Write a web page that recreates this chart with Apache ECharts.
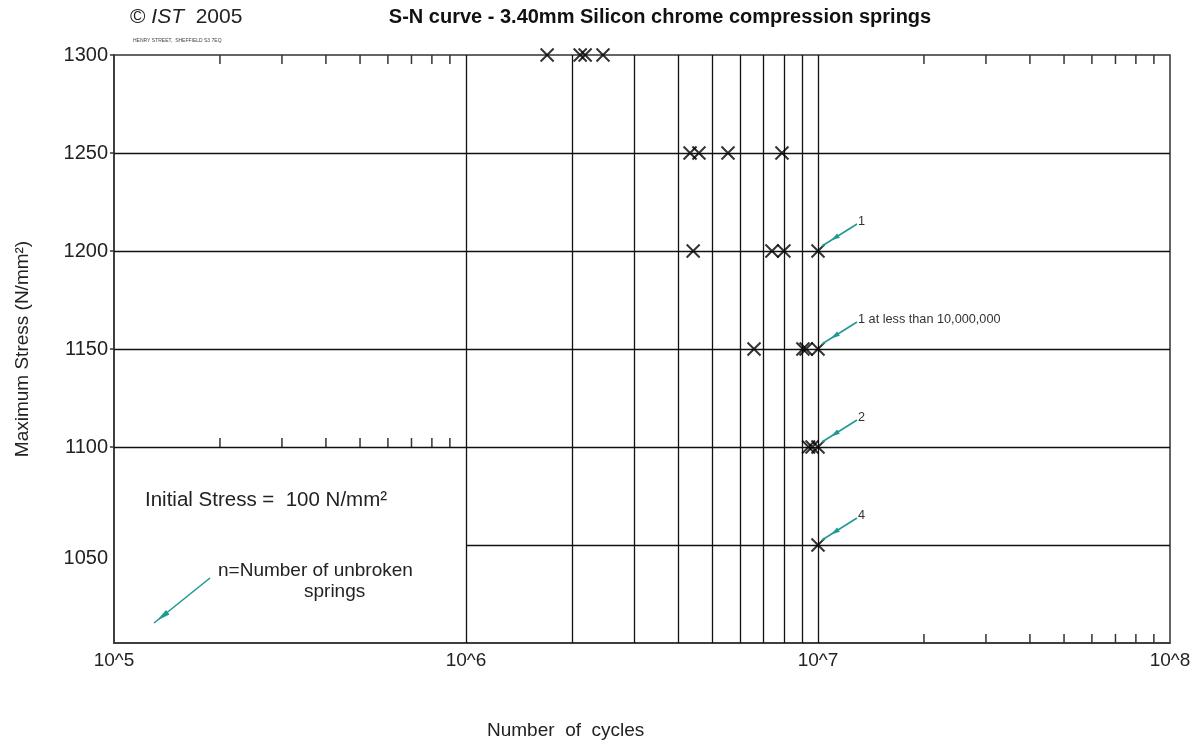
<!DOCTYPE html>
<html>
<head>
<meta charset="utf-8">
<title>S-N curve - 3.40mm Silicon chrome compression springs</title>
<script src="https://cdn.jsdelivr.net/npm/echarts@6/dist/echarts.min.js"></script>
<style>
  html, body { margin: 0; padding: 0; background: #fff; }
  #chart { width: 1197px; height: 744px; }
</style>
</head>
<body>
<div id="chart"></div>
<script>
// Test results: cycles to failure at each maximum stress level (N/mm²)
const cycles1300 = [1.70e6, 2.11e6, 2.18e6, 2.45e6];
const cycles1250 = [4.33e6, 4.59e6, 5.55e6, 7.90e6];
const cycles1200 = [4.42e6, 7.40e6, 8.00e6, 1.00e7];
const cycles1150 = [6.58e6, 9.06e6, 9.25e6, 1.00e7];
const cycles1100 = [9.40e6, 9.62e6, 1.00e7];
const cycles1050 = [1.00e7];

// Run-outs at 10^7 cycles, with the count of unbroken springs
const runoutCycles = 1.0e7;
const runoutStress = [1200, 1150, 1100, 1050];
const runoutLabels = ['1', '1 at less than 10,000,000', '2', '4'];

// Axis ranges and tick labels
const stressTicks = [1300, 1250, 1200, 1150, 1100];
const decadeLabels = { 5: '10^5', 6: '10^6', 7: '10^7', 8: '10^8' };
const minorMultipliers = [2, 3, 4, 5, 6, 7, 8, 9];

// Full-height cycle grid lines (10^6 to 10^7) and full-width stress lines
const gridCycles = [1e6, 2e6, 3e6, 4e6, 5e6, 6e6, 7e6, 8e6, 9e6, 1e7];
const gridStress = [1250, 1200, 1150, 1100];

const ink = '#111';
const teal = '#1f9a93';
const font = '"Liberation Sans", Arial, sans-serif';

const scatterData = []
  .concat(cycles1300.map(c => [c, 1300]))
  .concat(cycles1250.map(c => [c, 1250]))
  .concat(cycles1200.map(c => [c, 1200]))
  .concat(cycles1150.map(c => [c, 1150]))
  .concat(cycles1100.map(c => [c, 1100]))
  .concat(cycles1050.map(c => [c, 1050]));

// Short scale ticks: [cycles, stress, dx, dy] giving the tick's direction
const tickData = [];
minorMultipliers.forEach(m => {
  tickData.push([m * 1e5, 1300, 0, 1]);
  tickData.push([m * 1e7, 1300, 0, 1]);
  tickData.push([m * 1e5, 1100, 0, -1]);
  tickData.push([m * 1e7, 1000, 0, -1]);
});
stressTicks.forEach(s => tickData.push([1e5, s, -0.45, 0]));

const markLineData = gridCycles.map(c => ({ xAxis: c }))
  .concat(gridStress.map(s => ({ yAxis: s })))
  .concat([[{ coord: [1e6, 1050] }, { coord: [1e8, 1050] }]]);

const chart = echarts.init(document.getElementById('chart'), null, { renderer: 'canvas' });

const option = {
  backgroundColor: '#fff',
  animation: false,
  textStyle: { fontFamily: font },
  title: {
    text: 'S-N curve - 3.40mm Silicon chrome compression springs',
    left: 655, top: 2, textAlign: 'center',
    textStyle: { fontSize: 20, fontWeight: 'bold', color: '#111', fontFamily: font }
  },
  grid: {
    left: 114, right: 27, top: 55, bottom: 101,
    show: true, borderColor: '#333', borderWidth: 1.5, backgroundColor: 'transparent'
  },
  xAxis: {
    type: 'log', logBase: 10, min: 1e5, max: 1e8,
    axisLine: { show: true, lineStyle: { color: '#333', width: 1.5 } },
    axisTick: { show: false },
    splitLine: { show: false },
    axisLabel: {
      margin: 8, fontSize: 19, color: '#222',
      fontFamily: '"Liberation Sans Narrow", "Liberation Sans", Arial, sans-serif',
      formatter: v => decadeLabels[Math.round(Math.log10(v))] || ''
    }
  },
  yAxis: {
    type: 'value', min: 1000, max: 1300, interval: 50,
    name: 'Maximum Stress (N/mm²)', nameLocation: 'middle', nameGap: 82,
    nameTextStyle: { fontSize: 19, color: '#222', fontFamily: font },
    axisLine: { show: true, lineStyle: { color: '#333', width: 1.5 } },
    axisTick: { show: false },
    splitLine: { show: false },
    axisLabel: {
      margin: 6, fontSize: 20, color: '#222',
      formatter: v => (v === 1050 ? '{low|1050}' : (v === 1000 ? '' : String(v))),
      rich: { low: { fontSize: 20, color: '#222', padding: [26, 0, 0, 0] } }
    }
  },
  graphic: [
    {
      type: 'text', left: 130, top: 7,
      style: {
        text: '{n|© }{i|IST}{n|  2005}',
        rich: {
          n: { fontSize: 21, fill: '#222', fontFamily: font },
          i: { fontSize: 21, fill: '#222', fontStyle: 'italic', fontFamily: font }
        }
      }
    },
    {
      type: 'text', left: 133, top: 38,
      style: { text: 'HENRY STREET,  SHEFFIELD S3 7EQ', fontSize: 5, fill: '#444', fontFamily: font }
    },
    {
      type: 'text', left: 487, top: 721,
      style: { text: 'Number  of  cycles', fontSize: 19, fill: '#222', fontFamily: font }
    },
    {
      type: 'text', left: 145, top: 490,
      style: { text: 'Initial Stress =  100 N/mm²', fontSize: 20.5, fill: '#222', fontFamily: font }
    },
    {
      type: 'text', left: 218, top: 561,
      style: { text: 'n=Number of unbroken', fontSize: 19, fill: '#222', fontFamily: font }
    },
    {
      type: 'text', left: 304, top: 582,
      style: { text: 'springs', fontSize: 19, fill: '#222', fontFamily: font }
    },
    {
      type: 'line',
      shape: { x1: 210, y1: 578, x2: 154, y2: 623 },
      style: { stroke: teal, lineWidth: 1.6 }
    },
    {
      type: 'polygon',
      shape: { points: [[157, 620.5], [166, 610], [169.5, 614.5]] },
      style: { fill: teal }
    }
  ],
  series: [
    {
      name: 'grid',
      type: 'scatter',
      data: [],
      silent: true,
      markLine: {
        silent: true, symbol: 'none', animation: false,
        label: { show: false },
        lineStyle: { type: 'solid', color: ink, width: 1.3 },
        data: markLineData
      }
    },
    {
      name: 'ticks',
      type: 'custom',
      silent: true,
      data: tickData,
      renderItem: (params, api) => {
        const p = api.coord([api.value(0), api.value(1)]);
        const dx = api.value(2), dy = api.value(3);
        return {
          type: 'line',
          shape: { x1: p[0], y1: p[1], x2: p[0] + dx * 9, y2: p[1] + dy * 9 },
          style: { stroke: '#333', lineWidth: 1.5 }
        };
      }
    },
    {
      name: 'failures',
      type: 'scatter',
      data: scatterData,
      symbol: 'path://M0,0L10,10M10,0L0,10',
      symbolSize: 13,
      itemStyle: { color: 'none', borderColor: '#000', borderWidth: 2 },
      z: 5
    },
    {
      name: 'runouts',
      type: 'custom',
      silent: true,
      data: runoutStress.map((s, i) => [runoutCycles, s, i]),
      z: 6,
      renderItem: (params, api) => {
        const p = api.coord([api.value(0), api.value(1)]);
        const label = runoutLabels[api.value(2)];
        const tip = [p[0] + 4, p[1] - 5];
        const tail = [p[0] + 39, p[1] - 27];
        const dx = tip[0] - tail[0], dy = tip[1] - tail[1];
        const len = Math.sqrt(dx * dx + dy * dy);
        const ux = dx / len, uy = dy / len;
        const nx = -uy, ny = ux;
        const h = [tip[0] - ux * len * 0.35, tip[1] - uy * len * 0.35];
        const apex = [h[0] + ux * 4, h[1] + uy * 4];
        const b1 = [h[0] - ux * 5 + nx * 2.6, h[1] - uy * 5 + ny * 2.6];
        const b2 = [h[0] - ux * 5 - nx * 2.6, h[1] - uy * 5 - ny * 2.6];
        return {
          type: 'group',
          children: [
            {
              type: 'line',
              shape: { x1: tail[0], y1: tail[1], x2: tip[0], y2: tip[1] },
              style: { stroke: teal, lineWidth: 1.6 }
            },
            {
              type: 'polygon',
              shape: { points: [apex, b1, b2] },
              style: { fill: teal }
            },
            {
              type: 'text',
              x: tail[0] + 1, y: tail[1] - 3,
              style: {
                text: label, fontSize: 12.7, fill: '#333', fontFamily: font,
                textAlign: 'left', textVerticalAlign: 'middle'
              }
            }
          ]
        };
      }
    }
  ]
};

chart.setOption(option);
</script>
</body>
</html>
